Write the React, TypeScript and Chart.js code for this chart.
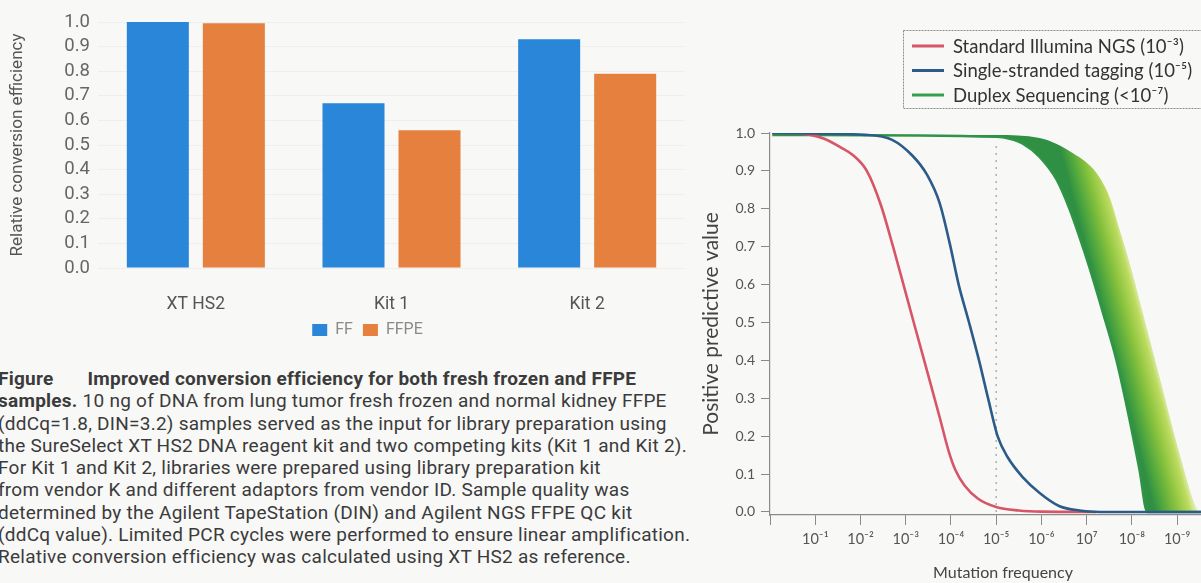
import React, { useEffect, useRef } from "react";
import { Chart, registerables } from "chart.js";

Chart.register(...registerables);

// ---------------- left chart: conversion efficiency ----------------
const KIT_CATEGORIES = ["XT HS2", "Kit 1", "Kit 2"];
const FF_VALUES = [1.0, 0.67, 0.93];
const FFPE_VALUES = [0.995, 0.56, 0.79];
const EFFICIENCY_TICKS = [0, 0.1, 0.2, 0.3, 0.4, 0.5, 0.6, 0.7, 0.8, 0.9, 1.0];

// ---------------- right chart: positive predictive value ----------------
// x value = -log10(mutation frequency)
const FREQ_TICKS = [0, 1, 2, 3, 4, 5, 6, 7, 8, 9];
const FREQ_TICK_LABELS = ["", "10⁻¹", "10⁻²", "10⁻³", "10⁻⁴", "10⁻⁵", "10⁻⁶", "10⁷", "10⁻⁸", "10⁻⁹"];
const PPV_TICKS = [0, 0.1, 0.2, 0.3, 0.4, 0.5, 0.6, 0.7, 0.8, 0.9, 1.0];

const ILLUMINA_X = [0.05, 0.5, 0.9, 1.2, 1.55, 1.85, 2.14, 2.45, 2.72, 2.95, 3.2, 3.5, 3.75, 3.95, 4.1, 4.3, 4.6, 5.0, 5.5, 6.0, 7.2];
const ILLUMINA_Y = [1.0, 1.0, 0.995, 0.985, 0.963, 0.94, 0.9, 0.81, 0.7, 0.6, 0.49, 0.36, 0.25, 0.16, 0.11, 0.07, 0.035, 0.013, 0.004, 0.001, 0];

const SSTAG_X = [0.05, 2.1, 2.7, 3.15, 3.47, 3.75, 3.97, 4.17, 4.4, 4.62, 4.83, 5.03, 5.25, 5.6, 5.96, 6.4, 6.84, 7.5, 10.3];
const SSTAG_Y = [1.0, 0.995, 0.982, 0.94, 0.89, 0.815, 0.71, 0.6, 0.5, 0.4, 0.295, 0.2, 0.145, 0.09, 0.05, 0.015, 0.004, 0, 0];

const DUPLEX_LOW_X = [0.05, 5.0, 5.3, 5.59, 5.96, 6.34, 6.62, 6.84, 7.06, 7.35, 7.66, 7.95, 8.17, 8.34, 10.3];
const DUPLEX_LOW_Y = [0.995, 0.99, 0.985, 0.972, 0.937, 0.876, 0.8, 0.726, 0.646, 0.53, 0.4, 0.243, 0.11, 0, 0];

const DUPLEX_HIGH_X = [0.05, 5.0, 5.96, 6.69, 7.22, 7.51, 7.73, 7.95, 8.23, 8.61, 9.05, 9.43, 9.55, 10.3];
const DUPLEX_HIGH_Y = [0.995, 0.995, 0.987, 0.947, 0.894, 0.83, 0.744, 0.657, 0.53, 0.356, 0.155, 0.01, 0, 0];

const MARKER_X = [5, 5];
const MARKER_Y = [0, 0.975];

const SERIES_LABELS = [
  "Standard Illumina NGS (10⁻³)",
  "Single-stranded tagging (10⁻⁵)",
  "Duplex Sequencing (<10⁻⁷)",
];
const SERIES_COLORS = ["#d65566", "#2b5b88", "#36a052"];

// ---------------- caption ----------------
const CAPTION_LINES: { bold: string; text: string }[] = [
  { bold: "Figure", text: "" },
  { bold: "samples.", text: " 10 ng of DNA from lung tumor fresh frozen and normal kidney FFPE" },
  { bold: "", text: "(ddCq=1.8, DIN=3.2) samples served as the input for library preparation using" },
  { bold: "", text: "the SureSelect XT HS2 DNA reagent kit and two competing kits (Kit 1 and Kit 2)." },
  { bold: "", text: "For Kit 1 and Kit 2, libraries were prepared using library preparation kit" },
  { bold: "", text: "from vendor K and different adaptors from vendor ID. Sample quality was" },
  { bold: "", text: "determined by the Agilent TapeStation (DIN) and Agilent NGS FFPE QC kit" },
  { bold: "", text: "(ddCq value). Limited PCR cycles were performed to ensure linear amplification." },
  { bold: "", text: "Relative conversion efficiency was calculated using XT HS2 as reference." },
];
const CAPTION_TITLE = "Improved conversion efficiency for both fresh frozen and FFPE";

const zip = (xs: number[], ys: number[]) => xs.map((x, i) => ({ x, y: ys[i] }));

const RIGHT_FONT = "Lato, 'Noto Sans', sans-serif";

function duplexFill(context: any) {
  const chart = context.chart;
  const { chartArea, scales } = chart;
  if (!chartArea) return "rgba(120,180,60,0.6)";
  const x0 = scales.x.getPixelForValue(7.3);
  const y0 = scales.y.getPixelForValue(0.55);
  const ux = 0.967;
  const uy = -0.253;
  const w = 48;
  const g = chart.ctx.createLinearGradient(x0, y0, x0 + ux * w, y0 + uy * w);
  g.addColorStop(0, "#2f8f43");
  g.addColorStop(0.15, "#48a33e");
  g.addColorStop(0.45, "#88c23d");
  g.addColorStop(0.72, "#bddb5f");
  g.addColorStop(1, "rgba(236,244,200,0.15)");
  return g;
}

const ppvLegendPlugin = {
  id: "ppvLegend",
  afterDraw(chart: any) {
    const ctx = chart.ctx;
    ctx.save();
    ctx.strokeStyle = "#8c8c8c";
    ctx.lineWidth = 1;
    ctx.setLineDash([2, 1]);
    ctx.strokeRect(203.5, 30.5, 310, 78);
    ctx.setLineDash([]);
    ctx.font = `18.5px ${RIGHT_FONT}`;
    ctx.textBaseline = "middle";
    ctx.textAlign = "left";
    SERIES_LABELS.forEach((label, i) => {
      const y = 46 + i * 24.5;
      ctx.strokeStyle = SERIES_COLORS[i];
      ctx.lineWidth = 3;
      ctx.beginPath();
      ctx.moveTo(212, y);
      ctx.lineTo(244, y);
      ctx.stroke();
      ctx.fillStyle = "#333";
      ctx.fillText(label, 253, y + 1);
    });
    ctx.restore();
  },
};

export default function App() {
  const leftRef = useRef<HTMLCanvasElement | null>(null);
  const rightRef = useRef<HTMLCanvasElement | null>(null);

  useEffect(() => {
    const left = new Chart(leftRef.current as HTMLCanvasElement, {
      type: "bar",
      data: {
        labels: KIT_CATEGORIES,
        datasets: [
          {
            label: "FF",
            data: FF_VALUES,
            backgroundColor: "#2a86d9",
            categoryPercentage: 0.777,
            barPercentage: 0.816,
          },
          {
            label: "FFPE",
            data: FFPE_VALUES,
            backgroundColor: "#e5803f",
            categoryPercentage: 0.777,
            barPercentage: 0.816,
          },
        ],
      },
      options: {
        animation: false,
        responsive: false,
        devicePixelRatio: 1,
        layout: { padding: { top: 22, left: 50, right: 15, bottom: 0 } },
        plugins: {
          legend: {
            position: "bottom",
            labels: {
              boxWidth: 15,
              boxHeight: 12,
              padding: 10,
              color: "#8a8a8a",
              font: { family: "Roboto", size: 16 },
            },
          },
          tooltip: { enabled: false },
        },
        scales: {
          x: {
            grid: { display: false },
            border: { display: false },
            ticks: { color: "#555", font: { family: "Roboto", size: 17.5 }, padding: 18.5 },
            afterFit: (s: any) => {
              s.height = 44;
            },
          },
          y: {
            min: 0,
            max: 1,
            afterBuildTicks: (s: any) => {
              s.ticks = EFFICIENCY_TICKS.map((v) => ({ value: v }));
            },
            ticks: {
              autoSkip: false,
              callback: (v: any) => Number(v).toFixed(1),
              color: "#666",
              font: { family: "Roboto", size: 18.5 },
              padding: 8,
            },
            grid: { color: "rgba(0,0,0,0.04)", drawTicks: false },
            border: { display: false },
            title: {
              display: true,
              text: "Relative conversion efficiency",
              color: "#555",
              font: { family: "Roboto", size: 17 },
              padding: { top: -42.2, bottom: 0 },
            },
            afterFit: (s: any) => {
              s.width = 48;
            },
          },
        },
      },
    });

    const right = new Chart(rightRef.current as HTMLCanvasElement, {
      type: "line",
      data: {
        datasets: [
          {
            label: SERIES_LABELS[1],
            data: zip(SSTAG_X, SSTAG_Y),
            borderColor: SERIES_COLORS[1],
            borderWidth: 2.6,
            pointRadius: 0,
            cubicInterpolationMode: "monotone",
            fill: false,
          },
          {
            label: SERIES_LABELS[0],
            data: zip(ILLUMINA_X, ILLUMINA_Y),
            borderColor: SERIES_COLORS[0],
            borderWidth: 2.6,
            pointRadius: 0,
            cubicInterpolationMode: "monotone",
            fill: false,
          },
          {
            label: "marker",
            data: zip(MARKER_X, MARKER_Y),
            borderColor: "#b3b3b3",
            borderWidth: 1.6,
            borderDash: [2, 5],
            pointRadius: 0,
            fill: false,
          },
          {
            label: SERIES_LABELS[2],
            data: zip(DUPLEX_LOW_X, DUPLEX_LOW_Y),
            borderColor: "#2f9446",
            borderWidth: 2.6,
            pointRadius: 0,
            cubicInterpolationMode: "monotone",
            fill: false,
          },
          {
            label: "Duplex range",
            data: zip(DUPLEX_HIGH_X, DUPLEX_HIGH_Y),
            borderColor: "rgba(0,0,0,0)",
            borderWidth: 0,
            pointRadius: 0,
            cubicInterpolationMode: "monotone",
            backgroundColor: duplexFill,
            fill: { target: 3 },
          },
        ],
      },
      plugins: [ppvLegendPlugin],
      options: {
        animation: false,
        responsive: false,
        devicePixelRatio: 1,
        layout: { padding: { top: 133, left: 0, right: 0, bottom: 0 } },
        plugins: {
          legend: { display: false },
          tooltip: { enabled: false },
        },
        scales: {
          x: {
            type: "linear",
            min: 0,
            max: 10.3,
            afterBuildTicks: (s: any) => {
              s.ticks = FREQ_TICKS.map((v) => ({ value: v }));
            },
            ticks: {
              autoSkip: false,
              maxRotation: 0,
              callback: (_v: any, i: number) => FREQ_TICK_LABELS[i],
              color: "#555",
              font: { family: RIGHT_FONT, size: 14.5 },
              padding: 6,
            },
            grid: { drawOnChartArea: false, drawTicks: true, tickLength: 10, color: "#8a8a8a" },
            border: { color: "#8a8a8a", width: 1.2 },
            title: {
              display: true,
              text: "Mutation frequency",
              color: "#444",
              font: { family: RIGHT_FONT, size: 16 },
              padding: { top: 0, bottom: 0.4 },
            },
            afterFit: (s: any) => {
              s.height = 68;
            },
          },
          y: {
            min: -0.008,
            max: 1.0,
            afterBuildTicks: (s: any) => {
              s.ticks = PPV_TICKS.map((v) => ({ value: v }));
            },
            ticks: {
              autoSkip: false,
              callback: (v: any) => Number(v).toFixed(1),
              color: "#555",
              font: { family: RIGHT_FONT, size: 14 },
              padding: 6,
            },
            grid: { drawOnChartArea: false, drawTicks: true, tickLength: 9, color: "#8a8a8a" },
            border: { color: "#8a8a8a", width: 1.2 },
            title: {
              display: true,
              text: "Positive predictive value",
              color: "#444",
              font: { family: RIGHT_FONT, size: 21 },
              padding: { top: -1.6, bottom: 0 },
            },
            afterFit: (s: any) => {
              s.width = 70;
            },
          },
        },
      },
    });

    return () => {
      left.destroy();
      right.destroy();
    };
  }, []);

  return (
    <div
      style={{
        position: "absolute",
        left: 0,
        top: 0,
        width: 1201,
        height: 583,
        overflow: "hidden",
        background: "#f8f8f7",
      }}
    >
      <canvas
        ref={leftRef}
        width={700}
        height={348}
        style={{ position: "absolute", left: 0, top: 0, width: 700, height: 348 }}
      />
      <div
        style={{
          position: "absolute",
          left: -2,
          top: 368,
          fontFamily: "Roboto, sans-serif",
          fontSize: 19,
          letterSpacing: "0.25px",
          lineHeight: "22.3px",
          color: "#3b3b3b",
          whiteSpace: "nowrap",
        }}
      >
        {CAPTION_LINES.map((line, i) => (
          <div key={i}>
            {line.bold && <span style={{ fontWeight: 700 }}>{line.bold}</span>}
            {i === 0 && (
              <span style={{ fontWeight: 700, marginLeft: 34 }}>{CAPTION_TITLE}</span>
            )}
            {line.text}
          </div>
        ))}
      </div>
      <canvas
        ref={rightRef}
        width={536}
        height={583}
        style={{ position: "absolute", left: 700, top: 0, width: 536, height: 583 }}
      />
    </div>
  );
}
